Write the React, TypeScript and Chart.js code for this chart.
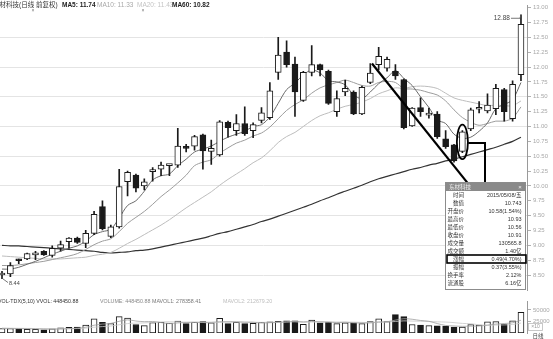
import React, { useEffect, useRef } from "react";
import { Chart, registerables } from "chart.js";

Chart.register(...registerables);

// ---------------- data ----------------
const OPEN = [8.50, 8.52, 8.76, 8.77, 8.84, 8.90, 8.83, 8.95, 9.06, 9.12, 9.03, 9.20, 9.65, 9.15, 9.31, 10.07, 10.18, 10.00, 10.24, 10.28, 10.34, 10.35, 10.65, 10.67, 10.86, 10.58, 10.52, 11.07, 10.93, 11.05, 10.93, 11.10, 11.15, 11.91, 12.25, 12.05, 11.44, 11.91, 12.04, 11.93, 11.25, 11.58, 11.58, 11.21, 11.74, 12.04, 11.98, 11.93, 11.79, 11.01, 11.32, 11.19, 11.21, 10.79, 10.69, 10.58, 10.96, 11.29, 11.26, 11.30, 11.62, 11.13, 11.87];
const HIGH = [8.56, 8.71, 8.77, 8.87, 8.90, 8.91, 8.99, 9.07, 9.13, 9.14, 9.25, 9.57, 9.75, 9.34, 10.28, 10.25, 10.20, 10.12, 10.31, 10.40, 10.36, 10.97, 10.70, 10.85, 10.87, 10.77, 11.10, 11.09, 11.20, 11.33, 11.06, 11.32, 11.74, 12.50, 12.44, 12.17, 11.93, 12.36, 12.05, 11.95, 11.60, 11.78, 11.60, 11.68, 12.06, 12.33, 12.17, 12.04, 11.80, 11.32, 11.48, 11.31, 11.25, 10.93, 10.70, 10.93, 11.31, 11.42, 11.55, 11.71, 11.64, 11.77, 12.88];
const LOW = [8.44, 8.47, 8.69, 8.76, 8.76, 8.83, 8.80, 8.90, 8.95, 9.03, 8.96, 9.18, 9.26, 9.13, 9.29, 9.83, 9.90, 9.93, 10.08, 10.17, 10.17, 10.31, 10.57, 10.60, 10.28, 10.36, 10.50, 10.82, 10.85, 10.85, 10.81, 11.06, 11.12, 11.79, 12.00, 11.17, 11.42, 11.85, 11.85, 11.37, 11.17, 11.52, 11.20, 11.20, 11.72, 11.95, 11.93, 11.79, 10.96, 11.00, 11.17, 11.14, 10.80, 10.63, 10.40, 10.56, 10.93, 11.23, 11.23, 11.20, 11.09, 11.09, 11.77];
const CLOSE = [8.52, 8.66, 8.74, 8.86, 8.85, 8.84, 8.95, 9.01, 9.12, 9.05, 9.20, 9.52, 9.28, 9.31, 9.99, 10.23, 9.96, 10.07, 10.26, 10.35, 10.35, 10.67, 10.63, 10.83, 10.59, 10.63, 11.08, 10.98, 11.05, 10.88, 11.03, 11.23, 11.60, 12.20, 12.04, 11.58, 11.91, 12.04, 11.95, 11.39, 11.47, 11.64, 11.21, 11.66, 11.90, 12.18, 12.13, 11.85, 10.98, 11.31, 11.25, 11.21, 10.83, 10.66, 10.42, 10.91, 11.28, 11.31, 11.36, 11.64, 11.25, 11.71, 12.72];
const VOLUME = [98000, 98000, 92000, 80000, 80000, 67000, 92000, 110000, 123000, 129000, 172000, 306000, 233000, 202000, 355000, 325000, 184000, 159000, 225000, 233000, 215000, 260000, 202000, 233000, 245000, 220000, 319000, 202000, 233000, 202000, 210000, 233000, 240000, 255000, 263000, 263000, 190000, 282000, 221000, 233000, 202000, 221000, 221000, 202000, 245000, 306000, 245000, 398000, 355000, 184000, 172000, 159000, 153000, 150000, 128000, 130565.8, 180000, 172000, 240000, 245000, 190000, 262000, 448450.88];

const MA5 = [8.60, 8.60, 8.63, 8.68, 8.73, 8.79, 8.85, 8.90, 8.95, 8.99, 9.07, 9.18, 9.23, 9.27, 9.46, 9.67, 9.75, 9.91, 10.10, 10.17, 10.20, 10.34, 10.45, 10.57, 10.62, 10.67, 10.75, 10.82, 10.87, 10.92, 11.00, 11.03, 11.16, 11.39, 11.62, 11.73, 11.87, 11.95, 11.90, 11.77, 11.75, 11.70, 11.53, 11.47, 11.58, 11.72, 11.82, 11.94, 11.81, 11.69, 11.50, 11.32, 11.11, 11.05, 10.87, 10.80, 10.82, 10.92, 11.06, 11.30, 11.37, 11.45, 11.74];
const MA10 = [8.66, 8.66, 8.67, 8.69, 8.71, 8.73, 8.76, 8.79, 8.82, 8.86, 8.93, 9.01, 9.07, 9.11, 9.23, 9.37, 9.47, 9.57, 9.69, 9.82, 9.93, 10.05, 10.18, 10.34, 10.40, 10.44, 10.55, 10.64, 10.72, 10.77, 10.84, 10.89, 10.99, 11.13, 11.27, 11.37, 11.45, 11.56, 11.65, 11.70, 11.74, 11.78, 11.74, 11.69, 11.68, 11.74, 11.76, 11.74, 11.64, 11.63, 11.61, 11.57, 11.53, 11.43, 11.28, 11.15, 11.07, 11.02, 11.05, 11.09, 11.09, 11.14, 11.33];
const MA20 = [8.82, 8.81, 8.80, 8.79, 8.78, 8.77, 8.77, 8.77, 8.78, 8.79, 8.80, 8.83, 8.85, 8.88, 8.95, 9.03, 9.10, 9.18, 9.26, 9.34, 9.43, 9.53, 9.63, 9.72, 9.81, 9.90, 10.01, 10.11, 10.20, 10.29, 10.39, 10.47, 10.59, 10.73, 10.83, 10.90, 11.00, 11.10, 11.18, 11.23, 11.29, 11.34, 11.37, 11.41, 11.47, 11.55, 11.60, 11.65, 11.64, 11.67, 11.68, 11.67, 11.64, 11.56, 11.48, 11.44, 11.41, 11.38, 11.35, 11.36, 11.35, 11.35, 11.43];
const MA60 = [9.00, 8.99, 8.99, 8.98, 8.97, 8.96, 8.95, 8.94, 8.93, 8.92, 8.91, 8.90, 8.88, 8.87, 8.88, 8.89, 8.91, 8.92, 8.94, 8.97, 9.00, 9.03, 9.06, 9.09, 9.12, 9.16, 9.20, 9.23, 9.27, 9.31, 9.35, 9.40, 9.44, 9.49, 9.54, 9.59, 9.64, 9.69, 9.75, 9.80, 9.86, 9.91, 9.96, 10.01, 10.07, 10.12, 10.16, 10.20, 10.24, 10.28, 10.31, 10.35, 10.38, 10.42, 10.45, 10.49, 10.53, 10.57, 10.61, 10.65, 10.70, 10.75, 10.82];
const MAVOL5 = [100000, 98000, 96000, 93000, 89600, 83400, 82200, 85800, 94400, 104200, 125200, 168000, 192600, 208400, 253600, 284200, 259800, 245000, 249600, 225200, 203200, 218400, 227000, 228600, 231000, 232000, 243800, 243800, 243800, 235200, 233200, 216000, 223600, 228000, 240200, 250800, 242200, 250600, 243800, 237800, 225600, 231800, 219600, 215800, 218200, 239000, 243800, 279200, 309800, 297600, 270800, 253600, 204600, 163600, 152400, 144100, 148300, 152100, 170100, 193500, 205400, 221800, 277100];
const MAVOL10 = [105000, 103000, 101000, 99000, 97000, 95000, 93000, 93000, 94000, 96900, 104300, 125100, 139200, 151400, 178900, 204700, 213900, 218800, 229000, 239400, 243700, 239100, 236000, 239100, 228100, 217600, 231100, 235400, 236200, 233100, 232600, 229900, 233700, 235900, 237700, 242000, 229100, 237100, 235900, 239000, 238200, 237000, 235100, 229800, 228000, 232300, 237800, 249400, 262800, 257900, 254900, 248700, 241900, 236700, 225000, 207500, 201000, 178400, 166900, 173000, 174800, 185100, 214600];

const PRICE_TICKS = [8.5, 8.75, 9.0, 9.25, 9.5, 9.75, 10.0, 10.25, 10.5, 10.75, 11.0, 11.25, 11.5, 11.75, 12.0, 12.25, 12.5, 12.75, 13.0];
const VOL_TICKS = [250000, 500000];

const STOCK_TITLE = "东材科技(日线 前复权)";
const TOOLTIP_TITLE = "东材科技";
const TOOLTIP_LABELS = ["时间", "数值", "开盘价", "最高价", "最低价", "收盘价", "成交量", "成交额", "涨幅", "振幅", "换手率", "流通股"];
const TOOLTIP_VALUES = ["2015/05/08/五", "10.743", "10.58(1.54%)", "10.93", "10.56", "10.91", "130565.8", "1.40亿", "0.49(4.70%)", "0.37(3.55%)", "2.12%", "6.16亿"];
const VOL_HEADER = ["VOL-TDX(5,10) VVOL: 448450.88", "VOLUME: 448450.88", "MAVOL1: 278358.41", "MAVOL2: 212679.20"];

// hand-drawn annotations in data coordinates (candle index, price)
const TREND_LINE = [{ x: 44.2, y: 12.06 }, { x: 55.9, y: 10.0 }];
const CONNECTOR = [{ x: 55.7, y: 10.72 }, { x: 57.7, y: 10.72 }, { x: 57.7, y: 10.05 }];
const HIGHLIGHT = { x: 55, y: 10.74, rx: 0.66, ry: 0.29 };

// ---------------- layout / style ----------------
const FONT = "'Liberation Sans', Arial, 'Noto Sans CJK SC', sans-serif";
const X_MIN = -0.24;
const X_MAX = 62.72;
const P_MIN = 8.2409;
const P_MAX = 13.0344;
const V_MAX = 680000;
const AXIS_W = 26;
const DARK = "#1a1a1a";

const idx = CLOSE.map((_, i) => i);
const isUp = (i: number) => CLOSE[i] >= OPEN[i];
const pts = (arr: number[]) => idx.map((i) => ({ x: i, y: arr[i] }));

function text(ctx: CanvasRenderingContext2D, s: string, x: number, y: number, size: number, color: string, align: CanvasTextAlign = "left", weight = "normal") {
  ctx.save();
  ctx.font = `${weight} ${size}px ${FONT}`;
  ctx.fillStyle = color;
  ctx.textAlign = align;
  ctx.textBaseline = "middle";
  ctx.fillText(s, x, y);
  ctx.restore();
}

const xScale = { type: "linear", min: X_MIN, max: X_MAX, display: false, offset: false, grid: { display: false } };

const pricePlugin = {
  id: "priceDecor",
  afterDatasetsDraw(chart: any) {
    const { ctx, scales } = chart;
    const xs = scales.x, ys = scales.y;
    const cx = xs.getPixelForValue(HIGHLIGHT.x);
    const cy = ys.getPixelForValue(HIGHLIGHT.y);
    const rx = xs.getPixelForValue(HIGHLIGHT.x + HIGHLIGHT.rx) - cx;
    const ry = ys.getPixelForValue(HIGHLIGHT.y - HIGHLIGHT.ry) - cy;
    ctx.save();
    ctx.strokeStyle = "#000";
    ctx.lineWidth = 1.8;
    ctx.beginPath();
    ctx.ellipse(cx, cy, rx, ry, 0, 0, Math.PI * 2);
    ctx.stroke();
    ctx.restore();
  },
  afterDraw(chart: any) {
    const { ctx, scales } = chart;
    const xs = scales.x, ys = scales.y;
    // header
    text(ctx, STOCK_TITLE, -7, 5, 6.5, "#333");
    text(ctx, "MA5: " + MA5[MA5.length - 1].toFixed(2), 62, 5, 6.5, "#222", "left", "bold");
    text(ctx, "MA10: " + MA10[MA10.length - 1].toFixed(2), 97, 5, 6.5, "#a8a8a8");
    text(ctx, "MA20: " + MA20[MA20.length - 1].toFixed(2), 137, 5, 6.5, "#c4c4c4");
    text(ctx, "MA60: " + MA60[MA60.length - 1].toFixed(2), 172, 5, 6.5, "#222", "left", "bold");
    text(ctx, "×", 33, 10.5, 5, "#777", "center");
    text(ctx, "×", 143, 10.5, 5, "#777", "center");

    // extreme labels
    let hi = 0, lo = 0;
    idx.forEach((i) => { if (HIGH[i] > HIGH[hi]) hi = i; if (LOW[i] < LOW[lo]) lo = i; });
    const hx = xs.getPixelForValue(hi), hy = ys.getPixelForValue(HIGH[hi]);
    ctx.save();
    ctx.strokeStyle = "#555";
    ctx.lineWidth = 0.8;
    ctx.beginPath();
    ctx.moveTo(hx - 10, hy + 3.5);
    ctx.lineTo(hx - 1, hy + 3.5);
    ctx.lineTo(hx, hy);
    ctx.stroke();
    const lx = xs.getPixelForValue(lo), ly = ys.getPixelForValue(LOW[lo]);
    ctx.beginPath();
    ctx.moveTo(lx + 0.5, ly);
    ctx.lineTo(lx + 6, ly + 4);
    ctx.stroke();
    ctx.restore();
    text(ctx, HIGH[hi].toFixed(2), hx - 11, hy + 3.5, 6.5, "#444", "right");
    text(ctx, LOW[lo].toFixed(2), lx + 7, ly + 4.5, 5.5, "#444", "left");

    // info box
    const L = 445, T = 182, W = 80, H = 107;
    ctx.save();
    ctx.fillStyle = "#fff";
    ctx.fillRect(L, T, W, H);
    ctx.strokeStyle = "#8c8c8c";
    ctx.lineWidth = 1;
    ctx.strokeRect(L + 0.5, T + 0.5, W, H);
    ctx.fillStyle = "#8a8a8a";
    ctx.fillRect(L + 1, T + 1, W - 1, 8);
    ctx.restore();
    text(ctx, TOOLTIP_TITLE, L + 4, T + 5, 5.5, "#f2f2f2");
    text(ctx, "×", L + W - 5, T + 5, 6, "#f2f2f2", "center");
    TOOLTIP_LABELS.forEach((lab, k) => {
      const y = 195 + k * 8;
      text(ctx, lab, L + 19, y, 5.5, "#333", "right");
      text(ctx, TOOLTIP_VALUES[k], L + W - 3.5, y, 5.5, "#333", "right");
      if (lab === "涨幅") {
        ctx.save();
        ctx.strokeStyle = "#000";
        ctx.lineWidth = 1.6;
        ctx.strokeRect(L + 2, y - 4, W - 1, 8);
        ctx.restore();
      }
    });
  },
};

const volPlugin = {
  id: "volDecor",
  afterDraw(chart: any) {
    const { ctx } = chart;
    text(ctx, VOL_HEADER[0], -2, 6, 5.3, "#333");
    text(ctx, VOL_HEADER[1], 100, 6, 5.3, "#888");
    text(ctx, VOL_HEADER[2], 152, 6, 5.3, "#777");
    text(ctx, VOL_HEADER[3], 223, 6, 5.3, "#bdbdbd");
    ctx.save();
    ctx.strokeStyle = "#bbb";
    ctx.lineWidth = 0.8;
    ctx.strokeRect(528.5, 27.5, 14, 7);
    ctx.restore();
    text(ctx, "×10", 535.5, 31, 5, "#999", "center");
    text(ctx, "日线", 538, 40, 5.5, "#444", "center");
  },
};

function priceConfig(): any {
  return {
    type: "bar",
    data: {
      datasets: [
        { type: "line", label: "trend", data: TREND_LINE, borderColor: "#000", borderWidth: 2.2, pointRadius: 0, tension: 0, order: -2 },
        { type: "line", label: "connector", data: CONNECTOR, borderColor: "#000", borderWidth: 2, pointRadius: 0, tension: 0, order: -1 },
        {
          type: "bar", label: "body", data: idx.map((i) => ({ x: i, y: [OPEN[i], CLOSE[i]] })),
          backgroundColor: idx.map((i) => (isUp(i) ? "#ffffff" : DARK)), borderColor: DARK, borderWidth: 1,
          borderSkipped: false, barThickness: 6, grouped: false, minBarLength: 2, order: 1,
        },
        {
          type: "bar", label: "wick", data: idx.map((i) => ({ x: i, y: [LOW[i], HIGH[i]] })),
          backgroundColor: DARK, borderWidth: 0, barThickness: 1, grouped: false, order: 2,
        },
        { type: "line", label: "MA5", data: pts(MA5), borderColor: "#6a6a6a", borderWidth: 1, pointRadius: 0, tension: 0.3, order: 3 },
        { type: "line", label: "MA10", data: pts(MA10), borderColor: "#9c9c9c", borderWidth: 1, pointRadius: 0, tension: 0.3, order: 4 },
        { type: "line", label: "MA20", data: pts(MA20), borderColor: "#bdbdbd", borderWidth: 1, pointRadius: 0, tension: 0.3, order: 5 },
        { type: "line", label: "MA60", data: pts(MA60), borderColor: "#333333", borderWidth: 1.2, pointRadius: 0, tension: 0.3, order: 6 },
      ],
    },
    options: {
      animation: false,
      responsive: false,
      devicePixelRatio: 1,
      events: [],
      layout: { padding: 0 },
      plugins: { legend: { display: false }, tooltip: { enabled: false } },
      scales: {
        x: xScale,
        y: {
          type: "linear", position: "right", min: P_MIN, max: P_MAX,
          afterFit: (s: any) => { s.width = AXIS_W; },
          afterBuildTicks: (s: any) => { s.ticks = PRICE_TICKS.map((v) => ({ value: v })); },
          border: { display: true, color: "#9a9a9a", width: 1 },
          grid: {
            color: (c: any) => {
              const v = c.tick ? c.tick.value : 0;
              const half = Math.abs(v * 2 - Math.round(v * 2)) < 1e-6;
              return half && v < 12.9 ? "#e4e4e4" : "rgba(0,0,0,0)";
            },
            tickColor: "#b0b0b0", tickLength: 4, drawTicks: true, lineWidth: 1,
          },
          ticks: {
            autoSkip: false, padding: 2, color: "#a8a8a8",
            font: { size: 6, family: FONT },
            callback: (v: any) => Number(v).toFixed(2),
          },
        },
      },
    },
    plugins: [pricePlugin],
  };
}

function volConfig(): any {
  return {
    type: "bar",
    data: {
      datasets: [
        { type: "line", label: "MAVOL5", data: pts(MAVOL5), borderColor: "#a0a0a0", borderWidth: 0.8, pointRadius: 0, tension: 0.3, order: 0 },
        { type: "line", label: "MAVOL10", data: pts(MAVOL10), borderColor: "#c8c8c8", borderWidth: 0.8, pointRadius: 0, tension: 0.3, order: 1 },
        {
          type: "bar", label: "VOLUME", data: idx.map((i) => ({ x: i, y: VOLUME[i] })),
          backgroundColor: idx.map((i) => (isUp(i) ? "#ffffff" : DARK)), borderColor: DARK, borderWidth: 1,
          borderSkipped: false, barThickness: 6, grouped: false, order: 2,
        },
      ],
    },
    options: {
      animation: false,
      responsive: false,
      devicePixelRatio: 1,
      events: [],
      layout: { padding: { left: 0, right: 0, top: 0, bottom: 6 } },
      plugins: { legend: { display: false }, tooltip: { enabled: false } },
      scales: {
        x: xScale,
        y: {
          type: "linear", position: "right", min: 0, max: V_MAX,
          afterFit: (s: any) => { s.width = AXIS_W; },
          afterBuildTicks: (s: any) => { s.ticks = VOL_TICKS.map((v) => ({ value: v })); },
          border: { display: true, color: "#9a9a9a", width: 1 },
          grid: { drawOnChartArea: false, tickColor: "#b0b0b0", tickLength: 4 },
          ticks: {
            autoSkip: false, padding: 2, color: "#a8a8a8",
            font: { size: 6, family: FONT },
            callback: (v: any) => String(Number(v) / 10),
          },
        },
      },
    },
    plugins: [volPlugin],
  };
}

export default function App() {
  const priceRef = useRef<HTMLCanvasElement>(null);
  const volRef = useRef<HTMLCanvasElement>(null);
  useEffect(() => {
    const pc = new Chart(priceRef.current as HTMLCanvasElement, priceConfig());
    const vc = new Chart(volRef.current as HTMLCanvasElement, volConfig());
    return () => {
      pc.destroy();
      vc.destroy();
    };
  }, []);
  return (
    <div style={{ position: "absolute", left: 0, top: 0, width: 553, height: 339, background: "#fff", overflow: "hidden" }}>
      <canvas ref={priceRef} width={553} height={296} style={{ position: "absolute", left: 0, top: 0, width: 553, height: 296 }} />
      <canvas ref={volRef} width={553} height={43} style={{ position: "absolute", left: 0, top: 296, width: 553, height: 43 }} />
    </div>
  );
}
